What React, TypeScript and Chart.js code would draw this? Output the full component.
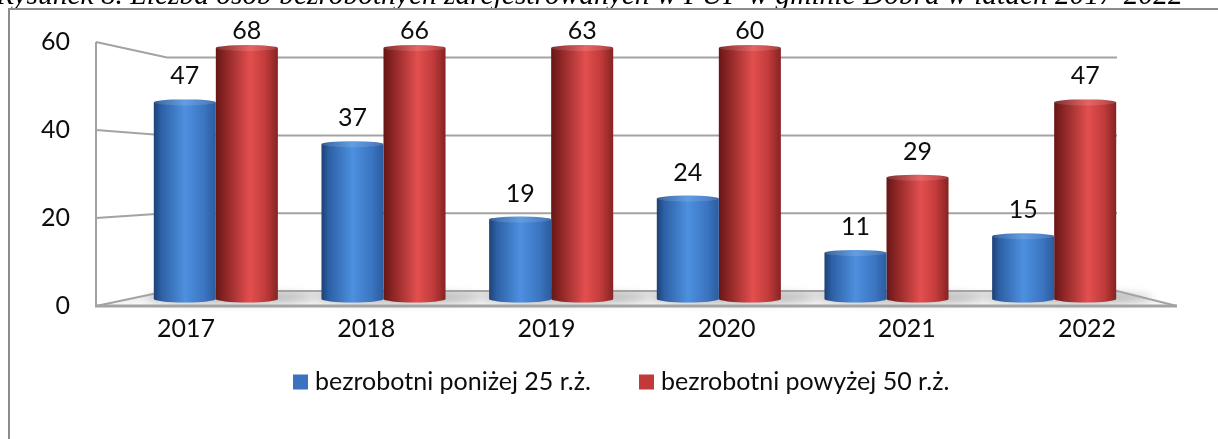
import React, { useEffect, useRef } from "react";
import { Chart, registerables } from "chart.js";

Chart.register(...registerables);

const TITLE =
  "Rysunek 8. Liczba osób bezrobotnych zarejestrowanych w PUP w gminie Dobra w latach 2017-2022";
const YEARS = ["2017", "2018", "2019", "2020", "2021", "2022"];
const UNDER_25 = [47, 37, 19, 24, 11, 15];
const OVER_50 = [68, 66, 63, 60, 29, 47];
const SERIES_NAMES = ["bezrobotni poniżej 25 r.ż.", "bezrobotni powyżej 50 r.ż."];
const Y_TICKS = [0, 20, 40, 60];
const Y_MAX = 60;

const W = 1218;
const H = 439;
const CAT_PCT = 0.74;
const FONT = "Lato, 'Noto Sans', sans-serif";
const FONT_SIZE = 25;
const TEXT_COLOR = "#0d0d0d";
const GRID_COLOR = "#a3a3a3";

type Stop = [number, string];
const BLUE_STOPS: Stop[] = [
  [0, "#1c4176"],
  [0.12, "#2d60a5"],
  [0.5, "#4d90df"],
  [0.8, "#3c76c3"],
  [1, "#2b5c9f"],
];
const RED_STOPS: Stop[] = [
  [0, "#661616"],
  [0.15, "#8c2525"],
  [0.55, "#e34f4f"],
  [0.8, "#c23b3b"],
  [1, "#862323"],
];
const LEGEND_COLORS = ["#3b72bf", "#c2393a"];

function grad(ctx: CanvasRenderingContext2D, x0: number, x1: number, stops: Stop[]) {
  const g = ctx.createLinearGradient(x0, 0, x1, 0);
  stops.forEach(([o, c]) => g.addColorStop(o, c));
  return g;
}

function barFill(stops: Stop[], fallback: string) {
  return (c: any) => {
    const ch = c.chart;
    const ca = ch.chartArea;
    if (!ca || c.type !== "data") return fallback;
    const xs = ch.scales.x;
    const cw = ca.width / YEARS.length;
    const bw = (cw * CAT_PCT) / 2;
    const cx = xs.getPixelForValue(c.dataIndex);
    const x0 = c.datasetIndex === 0 ? cx - bw : cx;
    return grad(ch.ctx, x0, x0 + bw, stops);
  };
}

function geometry(chart: any) {
  const ca = chart.chartArea;
  const ys = chart.scales.y;
  const base = ys.getPixelForValue(0);
  const rel = (v: number) => ys.getPixelForValue(v) - base;
  return {
    ca,
    base,
    backY: (v: number) => base - 8 + rel(v) * 0.93,
    frontY: (v: number) => base + 7 + rel(v) * 1.052,
    wallFrontX: ca.left - 36,
    wallBackX: ca.left + 35,
    backRightX: ca.right - 21,
    frontRightX: ca.right + 39,
  };
}

const scenePlugin = {
  id: "scene3d",
  beforeDatasetsDraw(chart: any) {
    const ctx: CanvasRenderingContext2D = chart.ctx;
    const g = geometry(chart);
    const xs = chart.scales.x;
    ctx.save();

    // title (cut off at top, as in the document)
    let size = 28;
    ctx.font = `italic ${size}px "Liberation Serif", serif`;
    const w = ctx.measureText(TITLE).width;
    size = (size * 1187) / w;
    ctx.font = `italic ${size}px "Liberation Serif", serif`;
    ctx.fillStyle = "#000";
    ctx.textAlign = "left";
    ctx.textBaseline = "alphabetic";
    ctx.fillText(TITLE, -4, 4);

    // frame
    ctx.strokeStyle = "#8c8c8c";
    ctx.lineWidth = 2;
    ctx.beginPath();
    ctx.moveTo(9, H + 2);
    ctx.lineTo(9, 9);
    ctx.lineTo(W + 2, 9);
    ctx.stroke();

    // floor
    const f0 = g.frontY(0);
    const b0 = g.backY(0);
    const fg = ctx.createLinearGradient(0, b0, 0, f0);
    fg.addColorStop(0, "#e2e2e2");
    fg.addColorStop(1, "#fafafa");
    ctx.fillStyle = fg;
    ctx.beginPath();
    ctx.moveTo(g.wallFrontX, f0);
    ctx.lineTo(g.frontRightX, f0);
    ctx.lineTo(g.backRightX, b0);
    ctx.lineTo(g.wallBackX, b0);
    ctx.closePath();
    ctx.fill();

    // soft shadows of the columns on the floor
    ctx.save();
    ctx.filter = "blur(4px)";
    ctx.fillStyle = "rgba(90,90,90,0.35)";
    const cw = g.ca.width / YEARS.length;
    const bw = (cw * CAT_PCT) / 2;
    YEARS.forEach((_, i) => {
      const cx = xs.getPixelForValue(i);
      ctx.beginPath();
      ctx.ellipse(cx + 14, g.base - 1, bw + 22, 6, 0, 0, Math.PI * 2);
      ctx.fill();
    });
    ctx.restore();

    // floor outline
    ctx.strokeStyle = GRID_COLOR;
    ctx.lineWidth = 2;
    ctx.beginPath();
    ctx.moveTo(g.wallFrontX, f0);
    ctx.lineTo(g.wallBackX, b0);
    ctx.lineTo(g.backRightX, b0);
    ctx.lineTo(g.frontRightX, f0);
    ctx.stroke();
    ctx.lineWidth = 3;
    ctx.beginPath();
    ctx.moveTo(g.wallFrontX - 1, f0);
    ctx.lineTo(g.frontRightX, f0);
    ctx.stroke();

    // walls & gridlines
    ctx.lineWidth = 2;
    ctx.beginPath();
    ctx.moveTo(g.wallFrontX, g.frontY(Y_MAX));
    ctx.lineTo(g.wallFrontX, f0);
    ctx.stroke();
    Y_TICKS.filter((v) => v > 0).forEach((v) => {
      ctx.beginPath();
      ctx.moveTo(g.wallFrontX, g.frontY(v));
      ctx.lineTo(g.wallBackX, g.backY(v));
      ctx.lineTo(g.backRightX, g.backY(v));
      ctx.stroke();
    });

    // y tick labels
    ctx.font = `${FONT_SIZE}px ${FONT}`;
    ctx.fillStyle = TEXT_COLOR;
    ctx.textAlign = "right";
    ctx.textBaseline = "middle";
    Y_TICKS.forEach((v) => ctx.fillText(String(v), g.wallFrontX - 26, g.frontY(v)));

    // x tick labels along the front edge of the floor
    ctx.textAlign = "center";
    YEARS.forEach((y, i) => {
      const px = xs.getPixelForValue(i);
      const x =
        g.wallFrontX + ((px - g.ca.left) / g.ca.width) * (g.frontRightX - g.wallFrontX);
      ctx.fillText(y, x, 329);
    });

    // legend
    const legendX = [293, 639];
    const legendY = 382;
    SERIES_NAMES.forEach((name, i) => {
      ctx.fillStyle = LEGEND_COLORS[i];
      ctx.fillRect(legendX[i], legendY - 7.5, 15, 15);
      ctx.fillStyle = TEXT_COLOR;
      ctx.textAlign = "left";
      ctx.fillText(name, legendX[i] + 22, legendY);
    });

    ctx.restore();
  },
  afterDatasetsDraw(chart: any) {
    const ctx: CanvasRenderingContext2D = chart.ctx;
    const g = geometry(chart);
    ctx.save();
    chart.data.datasets.forEach((ds: any, di: number) => {
      const meta = chart.getDatasetMeta(di);
      const stops = di === 0 ? BLUE_STOPS : RED_STOPS;
      meta.data.forEach((el: any, i: number) => {
        const { x, y, width } = el.getProps(["x", "y", "width"], true);
        const x0 = x - width / 2;
        const top = Math.max(y, g.ca.top);
        // bottom rim
        ctx.fillStyle = grad(ctx, x0, x0 + width, stops);
        ctx.beginPath();
        ctx.ellipse(x, g.base, width / 2, 3.5, 0, 0, Math.PI);
        ctx.fill();
        // top cap
        ctx.beginPath();
        ctx.ellipse(x, top, width / 2, 3, 0, 0, Math.PI * 2);
        ctx.fill();
        ctx.fillStyle = "rgba(255,255,255,0.12)";
        ctx.fill();
        // value label
        const v = ds.data[i];
        ctx.font = `${FONT_SIZE}px ${FONT}`;
        ctx.fillStyle = TEXT_COLOR;
        ctx.textAlign = "center";
        ctx.textBaseline = "middle";
        const ly = Math.max(top - 26, g.ca.top - 17.5);
        ctx.fillText(String(v), x, ly);
      });
    });
    ctx.restore();
  },
};

export default function App() {
  const ref = useRef<HTMLCanvasElement | null>(null);
  useEffect(() => {
    if (!ref.current) return;
    const chart = new Chart(ref.current, {
      type: "bar",
      data: {
        labels: YEARS,
        datasets: [
          {
            label: SERIES_NAMES[0],
            data: UNDER_25,
            backgroundColor: barFill(BLUE_STOPS, "#3b72bf"),
            borderWidth: 0,
            categoryPercentage: CAT_PCT,
            barPercentage: 1,
            clip: 0,
          },
          {
            label: SERIES_NAMES[1],
            data: OVER_50,
            backgroundColor: barFill(RED_STOPS, "#c2393a"),
            borderWidth: 0,
            categoryPercentage: CAT_PCT,
            barPercentage: 1,
            clip: 0,
          },
        ],
      },
      options: {
        animation: false,
        responsive: false,
        devicePixelRatio: 1,
        layout: { padding: { left: 132, right: 80, top: 48, bottom: 140 } },
        plugins: { legend: { display: false }, tooltip: { enabled: false }, title: { display: false } },
        scales: {
          x: { display: false, grid: { display: false } },
          y: { display: false, min: 0, max: Y_MAX, grid: { display: false } },
        },
      },
      plugins: [scenePlugin],
    });
    return () => chart.destroy();
  }, []);
  return (
    <div style={{ position: "absolute", left: 0, top: 0, width: W, height: H, background: "#fff" }}>
      <canvas ref={ref} width={W} height={H} style={{ display: "block", width: W, height: H }} />
    </div>
  );
}
